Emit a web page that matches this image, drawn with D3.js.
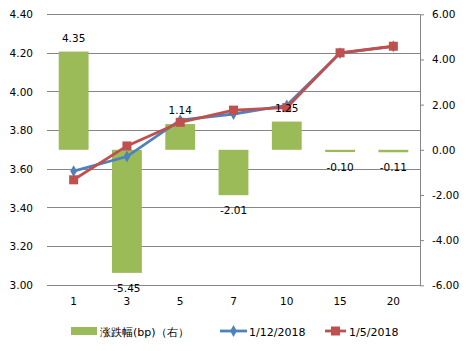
<!DOCTYPE html>
<html><head><meta charset="utf-8">
<script src="https://cdn.jsdelivr.net/npm/d3@7"></script>
<style>body{margin:0;background:#fff;} text{font-family:"DejaVu Sans",sans-serif;}</style>
</head><body><svg id="c" width="471" height="351"></svg>
<script>
const categories = ["1","3","5","7","10","15","20"];
const change = [4.35,-5.45,1.14,-2.01,1.25,-0.10,-0.11];
const seriesA = [3.59,3.665,3.853,3.885,3.93,4.200,4.234];
const seriesB = [3.545,3.72,3.842,3.905,3.918,4.201,4.235];
const leftTicks = [3.00,3.20,3.40,3.60,3.80,4.00,4.20,4.40];
const rightTicks = [-6,-4,-2,0,2,4,6];
const legendLabels = ["涨跌幅(bp)（右）","1/12/2018","1/5/2018"];

const fmt = d => d3.format(".2f")(d).replace("\u2212","-");
const svg = d3.select("#c");
const L=47, R=420, T=14.3, B=285.3;
const x = d3.scaleBand().domain(categories).range([L,R]).paddingInner(0.44).paddingOuter(0.22);
const yL = d3.scaleLinear().domain([3.0,4.4]).range([B,T]);
const yR = d3.scaleLinear().domain([-6,6]).range([B,T]);
const cx = d => x(d)+x.bandwidth()/2;

// gridlines
svg.append("g").selectAll("line").data(leftTicks).join("line")
  .attr("x1",L).attr("x2",R).attr("y1",d=>yL(d)).attr("y2",d=>yL(d))
  .attr("stroke","#868686").attr("stroke-width",1).attr("shape-rendering","crispEdges");

// left axis labels
const la = svg.append("g").attr("transform",`translate(${L},0)`)
  .call(d3.axisLeft(yL).tickValues(leftTicks).tickFormat(fmt).tickSize(0).tickPadding(14));
la.select(".domain").remove();
la.selectAll("text").attr("font-size",10.5).attr("fill","#000").style("font-family","DejaVu Sans");

// right axis
const ra = svg.append("g").attr("transform",`translate(${R},0)`)
  .call(d3.axisRight(yR).tickValues(rightTicks).tickFormat(fmt).tickSize(4).tickSizeOuter(0).tickPadding(8));
ra.select(".domain").attr("stroke","#868686");
ra.selectAll(".tick line").attr("stroke","#868686");
ra.selectAll("text").attr("font-size",10.5).attr("fill","#000").style("font-family","DejaVu Sans");

// x labels
const xa = svg.append("g").attr("transform",`translate(0,${B})`)
  .call(d3.axisBottom(x).tickSize(0).tickPadding(12));
xa.select(".domain").remove();
xa.selectAll("text").attr("font-size",10.5).attr("fill","#000").style("font-family","DejaVu Sans");

// bars
svg.append("g").selectAll("rect").data(categories).join("rect")
  .attr("x",d=>x(d)).attr("width",x.bandwidth())
  .attr("y",(d,i)=>yR(Math.max(0,change[i])))
  .attr("height",(d,i)=>Math.max(1.5,Math.abs(yR(change[i])-yR(0))))
  .attr("fill","#9BBB59");

// lines
const lineA = d3.line().x((d,i)=>cx(categories[i])).y(d=>yL(d));
svg.append("path").attr("d",lineA(seriesA)).attr("fill","none").attr("stroke","#4F81BD").attr("stroke-width",2.8);
svg.append("g").selectAll("path").data(seriesA).join("path")
  .attr("d",d3.symbol(d3.symbolDiamond,40)())
  .attr("transform",(d,i)=>`translate(${cx(categories[i])},${yL(d)})`).attr("fill","#4F81BD");
svg.append("path").attr("d",lineA(seriesB)).attr("fill","none").attr("stroke","#C0504D").attr("stroke-width",2.8);
svg.append("g").selectAll("rect").data(seriesB).join("rect")
  .attr("x",(d,i)=>cx(categories[i])-4.5).attr("y",d=>yL(d)-4.5).attr("width",9).attr("height",9).attr("fill","#C0504D");

// bar labels
svg.append("g").selectAll("text").data(categories).join("text")
  .attr("x",d=>cx(d))
  .attr("y",(d,i)=>change[i]>=0 ? yR(change[i])-10 : yR(change[i])+19)
  .attr("text-anchor","middle").attr("font-size",10.5).attr("fill","#000")
  .text((d,i)=>fmt(change[i]));

// legend
const lg = svg.append("g").attr("font-size",11);
lg.append("rect").attr("x",71).attr("y",327).attr("width",26).attr("height",8).attr("fill","#9BBB59");
lg.append("text").attr("x",100).attr("y",335.5).text(legendLabels[0]);
lg.append("line").attr("x1",220).attr("x2",247).attr("y1",331).attr("y2",331).attr("stroke","#4F81BD").attr("stroke-width",2.8);
lg.append("path").attr("d",d3.symbol(d3.symbolDiamond,40)()).attr("transform","translate(233.5,331)").attr("fill","#4F81BD");
lg.append("text").attr("x",249).attr("y",335.5).text(legendLabels[1]);
lg.append("line").attr("x1",325).attr("x2",346).attr("y1",331).attr("y2",331).attr("stroke","#C0504D").attr("stroke-width",2.8);
lg.append("rect").attr("x",331).attr("y",326.5).attr("width",9).attr("height",9).attr("fill","#C0504D");
lg.append("text").attr("x",349).attr("y",335.5).text(legendLabels[2]);
</script></body></html>
